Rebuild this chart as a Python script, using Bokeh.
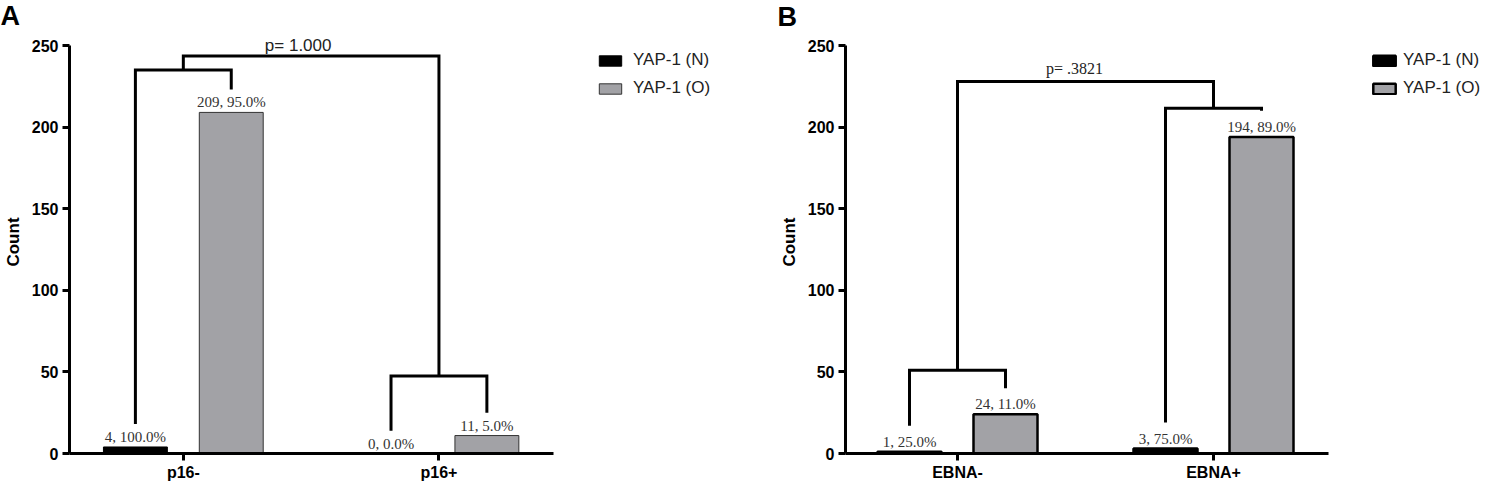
from bokeh.plotting import figure
from bokeh.models import Range1d, FixedTicker, Legend, LegendItem, Label, ColumnDataSource
from bokeh.layouts import row, column
from bokeh.transform import dodge
from bokeh.embed import file_html
from bokeh.resources import INLINE
from bokeh.core.properties import value

# ---------------- data ----------------
series = ["YAP-1 (N)", "YAP-1 (O)"]
y_ticks = [0, 50, 100, 150, 200, 250]
y_max = 250

a_categories = ["p16-", "p16+"]
a_counts_n = [4, 0]
a_counts_o = [209, 11]
a_pct_n = ["100.0%", "0.0%"]
a_pct_o = ["95.0%", "5.0%"]
a_group_bracket = [235, 47.5]
a_top_bracket = 243.5
a_p_text = "p= 1.000"

b_categories = ["EBNA-", "EBNA+"]
b_counts_n = [1, 3]
b_counts_o = [24, 194]
b_pct_n = ["25.0%", "75.0%"]
b_pct_o = ["11.0%", "89.0%"]
b_group_bracket = [51, 211.5]
b_top_bracket = 228
b_p_text = "p= .3821"

# ---------------- style / layout ----------------
BLACK = "#000000"
GRAY = "#a2a2a6"
OFF = 0.1875
BAR_W = 0.25
SANS = "Liberation Sans"
SERIF = "Liberation Serif"
HEAD_H = 30          # strip holding the panel letter
MAIN_H = 453         # main figure height
PX_PER_CAT = 256     # horizontal pixels per category
FRAME_BOTTOM = 30    # border below frame
PLOT_PX = 408        # pixels for 0..250
TOP_PAD = 15         # pixels above y=250 inside the frame


def letter_strip(letter, width, x_left, y_mid):
    s = figure(width=width, height=HEAD_H, x_range=Range1d(-x_left, width - x_left),
               y_range=Range1d(0, HEAD_H),
               output_backend="svg", toolbar_location=None, tools="",
               x_axis_location=None, y_axis_location=None, min_border=0)
    s.frame_align = False
    s.grid.visible = False
    s.outline_line_color = None
    s.text(x=[0], y=[HEAD_H - y_mid], text=[letter], text_align="left", text_baseline="middle",
           text_font=value(SANS), text_font_style="bold", text_font_size="27px",
           text_color=BLACK)
    return s


def make_panel(cats, n, o, pn, po, group_lvls, top_lvl, ptext, p_font, p_size,
               bar_lw, bar_lc, leg_gap, fig_w, b_left, x0, x_axis_end, legend_x,
               legend_standoff, p_dx, p_dy):
    pos = list(range(len(cats)))
    src = ColumnDataSource(dict(
        pos=pos, n=n, o=o,
        ln=[f"{a}, {b}" for a, b in zip(n, pn)],
        lo=[f"{a}, {b}" for a, b in zip(o, po)],
    ))
    x1 = x0 + (fig_w - b_left) / PX_PER_CAT
    y1 = y_max + TOP_PAD * y_max / PLOT_PX
    p = figure(width=fig_w, height=MAIN_H, x_range=Range1d(x0, x1), y_range=Range1d(0, y1),
               output_backend="svg", toolbar_location=None, tools="",
               min_border_left=b_left, min_border_right=0,
               min_border_top=0, min_border_bottom=FRAME_BOTTOM)
    p.frame_align = False
    p.grid.visible = False
    p.outline_line_color = None
    p.background_fill_color = "white"
    p.border_fill_color = "white"

    rn = p.vbar(x=dodge("pos", -OFF), top="n", width=BAR_W, bottom=0, source=src,
                fill_color=BLACK, line_color=BLACK, line_width=bar_lw)
    ro = p.vbar(x=dodge("pos", OFF), top="o", width=BAR_W, bottom=0, source=src,
                fill_color=GRAY, line_color=bar_lc, line_width=bar_lw)

    for col, lab, dx in (("n", "ln", -OFF), ("o", "lo", OFF)):
        p.text(x=dodge("pos", dx), y=col, text=lab, source=src, text_align="center",
               text_baseline="alphabetic", y_offset=-10, text_font=value(SERIF),
               text_font_size="15px", text_color="#333333")

    # brackets
    xs, ys = [], []
    for i in pos:
        xs.append([i - OFF, i - OFF, i + OFF, i + OFF])
        ys.append([n[i] + leg_gap, group_lvls[i], group_lvls[i], o[i] + leg_gap])
    xs.append([pos[0], pos[0], pos[-1], pos[-1]])
    ys.append([group_lvls[0], top_lvl, top_lvl, group_lvls[-1]])
    p.multi_line(xs=xs, ys=ys, line_color=BLACK, line_width=3, line_join="miter")

    p.add_layout(Label(x=(pos[0] + pos[-1]) / 2, y=top_lvl, text=ptext, text_align="center",
                       text_baseline="alphabetic", x_offset=p_dx, y_offset=p_dy,
                       text_font=p_font, text_font_size=p_size, text_color="#222222"))

    for ax in (p.xaxis[0], p.yaxis[0]):
        ax.axis_line_width = 3
        ax.axis_line_color = BLACK
        ax.major_tick_line_width = 3
        ax.major_tick_line_color = BLACK
        ax.major_tick_out = 7
        ax.major_tick_in = 0
        ax.minor_tick_out = 0
        ax.minor_tick_in = 0
        ax.major_label_text_font = SANS
        ax.major_label_text_font_style = "bold"
        ax.major_label_text_color = BLACK
    ya = p.yaxis[0]
    ya.ticker = FixedTicker(ticks=y_ticks)
    ya.bounds = (0, y_max)
    ya.major_label_text_font_size = "16px"
    ya.major_label_standoff = 4
    ya.axis_label = "Count"
    ya.axis_label_text_font = SANS
    ya.axis_label_text_font_style = "bold"
    ya.axis_label_text_font_size = "17px"
    ya.axis_label_text_color = BLACK
    ya.axis_label_standoff = 6
    xa = p.xaxis[0]
    xa.ticker = FixedTicker(ticks=pos)
    xa.bounds = (x0, x_axis_end)
    xa.major_label_overrides = {i: c for i, c in zip(pos, cats)}
    xa.major_label_text_font_size = "16px"
    xa.major_label_standoff = 3

    legend = Legend(items=[LegendItem(label=value(series[0]), renderers=[rn]),
                           LegendItem(label=value(series[1]), renderers=[ro])],
                    location=(legend_x, MAIN_H - FRAME_BOTTOM - (98 - HEAD_H)),
                    orientation="vertical",
                    glyph_width=28, glyph_height=13, label_height=20, spacing=8,
                    padding=0, margin=0, label_standoff=legend_standoff,
                    label_text_font=SANS, label_text_font_size="17px",
                    label_text_color="#222222",
                    border_line_alpha=0, background_fill_alpha=0)
    p.add_layout(legend)
    return p


pa = make_panel(a_categories, a_counts_n, a_counts_o, a_pct_n, a_pct_o,
                a_group_bracket, a_top_bracket, a_p_text, SANS, "17px",
                1, "#333333", 14, 745, 68, -0.4453, 1.449, 527, 9, -13, 11)
pb = make_panel(b_categories, b_counts_n, b_counts_o, b_pct_n, b_pct_o,
                b_group_bracket, b_top_bracket, b_p_text, SERIF, "16px",
                2.5, BLACK, 16, 740, 100, -0.4375, 1.449, 525, 5, -11, 13)

la = letter_strip("A", 745, 0, 15)
lb = letter_strip("B", 740, 32, 16)

layout = row(column(la, pa), column(lb, pb))
open("out.html", "w").write(file_html(layout, INLINE))
